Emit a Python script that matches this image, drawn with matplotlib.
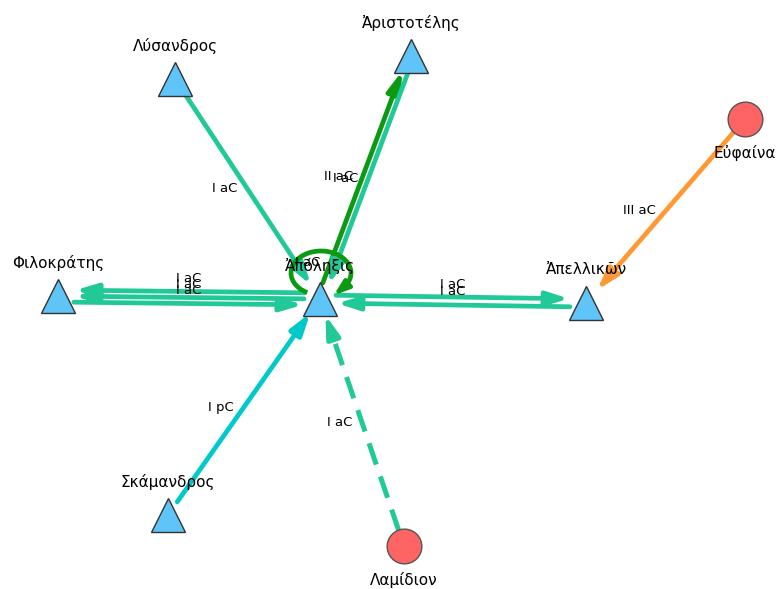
import numpy as np
import matplotlib
matplotlib.use("Agg")
import matplotlib.pyplot as plt
from matplotlib.patches import Arc

# nodes: name, x, y (pixel layout of the network), kind
node_names = ["Ἀπόληξις", "Ἀριστοτέλης", "Λύσανδρος", "Φιλοκράτης",
              "Ἀπελλικῶν", "Εὐφαίνα", "Σκάμανδρος", "Λαμίδιον"]
node_x = [320, 411, 175, 58, 586, 745, 168, 404]
node_y = [299, 56, 79, 296, 303, 119, 515, 546]
node_kind = ["tri", "tri", "tri", "tri", "tri", "circ", "tri", "circ"]

# edges: source, target, label, type
edge_src = [2, 0, 1, 0, 0, 3, 0, 4, 5, 6, 7]
edge_dst = [0, 1, 0, 3, 3, 0, 4, 0, 4, 0, 0]
edge_lab = ["I aC", "II aC", "I aC", "I aC", "I aC", "I aC", "I aC", "I aC",
            "III aC", "I pC", "I aC"]
edge_type = ["aC", "IIaC", "aC", "aC", "aC", "aC", "aC", "aC", "IIIaC", "pC", "aC_dash"]
edge_off = [0, -3, 3, -6, 0, 6, -4, 4, 0, 0, 0]

loop_node = 0
loop_label = "I aC"

colors = {"aC": "#20c997", "aC_dash": "#20c997", "IIaC": "#0b9a12",
          "IIIaC": "#ff9933", "pC": "#00c9cc"}

HEAD = "-|>,head_length=1.3,head_width=0.4"

fig = plt.figure(figsize=(7.84, 5.89), dpi=100)
ax = fig.add_axes([0, 0, 1, 1])
ax.set_xlim(0, 784)
ax.set_ylim(589, 0)
ax.axis("off")

R0 = 16
R1 = 17
for s, d, lab, t, off in zip(edge_src, edge_dst, edge_lab, edge_type, edge_off):
    x0, y0, x1, y1 = node_x[s], node_y[s], node_x[d], node_y[d]
    L = np.hypot(x1 - x0, y1 - y0)
    ux, uy = (x1 - x0) / L, (y1 - y0) / L
    px, py = -uy, ux
    if ux < 0 or (ux == 0 and uy < 0):
        px, py = -px, -py
    sx, sy = x0 + ux * R0 + px * off, y0 + uy * R0 + py * off
    ex, ey = x1 - ux * R1 + px * off, y1 - uy * R1 + py * off
    col = colors[t]
    if t == "aC_dash":
        ax.plot([sx, ex - ux * 10], [sy, ey - uy * 10], color=col, lw=3.6,
                ls=(0, (4.5, 2.5)), solid_capstyle="butt", zorder=2)
        ax.annotate("", xy=(ex, ey), xytext=(ex - ux * 12, ey - uy * 12),
                    arrowprops=dict(arrowstyle=HEAD, color=col, lw=3.4,
                                    mutation_scale=10, shrinkA=0, shrinkB=0),
                    zorder=2)
    else:
        ax.annotate("", xy=(ex, ey), xytext=(sx, sy),
                    arrowprops=dict(arrowstyle=HEAD, color=col, lw=3.4,
                                    mutation_scale=10, shrinkA=0, shrinkB=0),
                    zorder=2)
    mx, my = (x0 + x1) / 2 + px * off, (y0 + y1) / 2 + py * off
    if abs(ux) > 0.9:
        ax.text(mx, my - 13, lab, fontsize=9.5, ha="center", va="center", zorder=5)
    else:
        ax.text(mx - 10, my, lab, fontsize=9.5, ha="right", va="center", zorder=5)

# self loop
cx, cy = node_x[loop_node] + 1, node_y[loop_node] - 26
ax.add_patch(Arc((cx, cy), 60, 44, theta1=125, theta2=400, color=colors["IIaC"],
                 lw=3.4, zorder=2))
a_end = np.deg2rad(62)
a_st = np.deg2rad(35)
ax.annotate("", xy=(cx + 27 * np.cos(a_end), cy + 23 * np.sin(a_end) + 2),
            xytext=(cx + 30 * np.cos(a_st), cy + 22 * np.sin(a_st)),
            arrowprops=dict(arrowstyle="-|>,head_length=1.0,head_width=0.35",
                            color=colors["IIaC"], lw=3.0, mutation_scale=9,
                            shrinkA=0, shrinkB=0), zorder=2)
ax.text(node_x[loop_node] - 12, node_y[loop_node] - 37, loop_label, fontsize=9.5,
        ha="center", va="center", zorder=5)

for name, x, y, k in zip(node_names, node_x, node_y, node_kind):
    if k == "tri":
        ax.plot(x, y, marker="^", ms=25, mfc="#5fc4f7", mec="#333333", mew=1.0, zorder=4)
        ax.text(x, y - 33, name, fontsize=11, ha="center", va="center", zorder=5)
    else:
        ax.plot(x, y, marker="o", ms=25, mfc="#fe6464", mec="#555555", mew=1.0, zorder=4)
        ax.text(x, y + 34, name, fontsize=11, ha="center", va="center", zorder=5)

fig.savefig("out.png", dpi=100)
